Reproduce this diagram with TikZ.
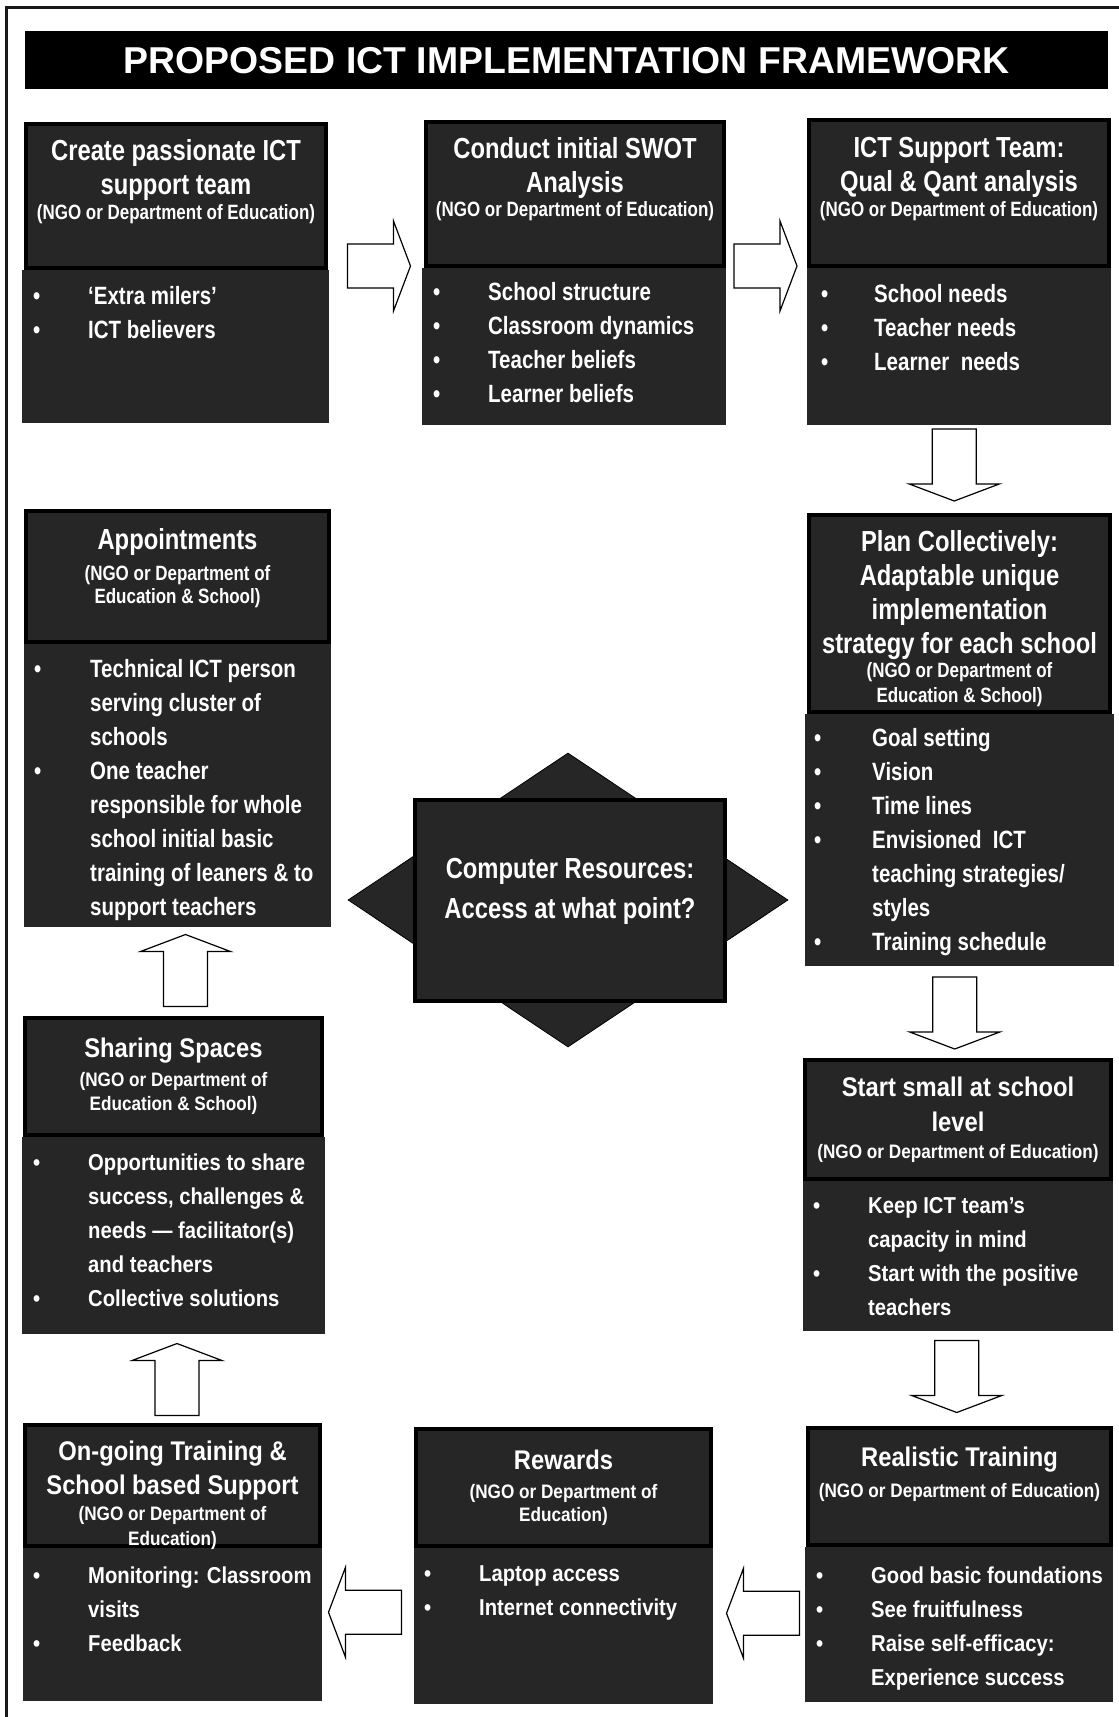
\documentclass[tikz,border=0pt]{standalone}
\usepackage{fontspec}
\setmainfont{Liberation Sans}
\newfontfamily\condA[FakeStretch=0.82]{Liberation Sans}
\newfontfamily\condB[FakeStretch=0.88]{Liberation Sans}
\usepackage{xcolor}
\usepackage{tikz}
\usetikzlibrary{shapes.geometric,calc}

\definecolor{boxgrey}{RGB}{38,38,38}

\newcommand{\bulitem}[1][55pt]{\makebox[#1][l]{\textbullet}}
\newcommand{\bulpad}[1][55pt]{\hspace*{#1}}
\newcommand{\ngoA}{\fontsize{20.7}{24}\selectfont}
\newcommand{\ngoB}{\fontsize{19.5}{24}\selectfont}

\tikzset{
  headbox/.style={draw=black, line width=4pt, fill=boxgrey, inner sep=0pt, outer sep=0pt, anchor=north west},
  bodybox/.style={fill=boxgrey, inner sep=0pt, outer sep=0pt, anchor=north west},
  titleA/.style={text=white, align=center, anchor=north, inner sep=0pt, font=\condA\bfseries\fontsize{29}{34}\selectfont},
  titleB/.style={text=white, align=center, anchor=north, inner sep=0pt, font=\condB\bfseries\fontsize{27}{34}\selectfont},
  listA/.style={text=white, align=left, anchor=north west, inner sep=0pt, font=\condA\bfseries\fontsize{25}{34}\selectfont},
  listB/.style={text=white, align=left, anchor=north west, inner sep=0pt, font=\condB\bfseries\fontsize{23}{34}\selectfont},
  arrowline/.style={draw=black, fill=white, line width=1.2pt},
  pics/blockarr/.style={code={
    \draw[arrowline] ({-#1/2},-22) -- ({#1/2-17},-22) -- ({#1/2-17},-45)
      -- ({#1/2},0) -- ({#1/2-17},45) -- ({#1/2-17},22) -- ({-#1/2},22) -- cycle;}},
}

\begin{document}
\begin{tikzpicture}[x=1pt, y=-1pt]
    \useasboundingbox (0,0) rectangle (1119,1717);

    % Page frame
    \draw[line width=3pt, black!90] (6,1720) -- (6,7) -- (1122,7);

    % Title bar
    \node[fill=black, text=white, font=\bfseries\fontsize{37.4}{40}\selectfont,
          minimum width=1083, minimum height=58, inner sep=0pt, anchor=north west]
          (title) at (25,31) {PROPOSED ICT IMPLEMENTATION FRAMEWORK};

    % Centre: computer resources
    \node[diamond, draw=black, line width=0.8pt, fill=boxgrey, minimum width=440,
          minimum height=294, inner sep=0pt] (access-diamond) at (568,900) {};
    \node[headbox, minimum width=310, minimum height=201] (access) at (415,800) {};
    \node[titleA] (access-text) at (570,858.2) {Computer Resources:\\[6pt]Access at what point?};

    % Box bodies
    \node[bodybox, minimum width=307, minimum height=153] (create-body) at (22,270) {};
    \node[bodybox, minimum width=304, minimum height=157] (swot-body) at (422,268) {};
    \node[bodybox, minimum width=304, minimum height=157] (team-body) at (807,268) {};
    \node[bodybox, minimum width=309, minimum height=252] (plan-body) at (805,714) {};
    \node[bodybox, minimum width=310, minimum height=150] (start-body) at (803,1181) {};
    \node[bodybox, minimum width=308, minimum height=155] (train-body) at (805,1547) {};
    \node[bodybox, minimum width=299, minimum height=156] (rewards-body) at (414,1548) {};
    \node[bodybox, minimum width=299, minimum height=153] (ongoing-body) at (23,1548) {};
    \node[bodybox, minimum width=303, minimum height=197] (sharing-body) at (22,1137) {};
    \node[bodybox, minimum width=307, minimum height=283] (appoint-body) at (24,644) {};

    % Box headers
    \node[headbox, minimum width=300, minimum height=144] (create-head) at (26,124) {};
    \node[headbox, minimum width=298, minimum height=144] (swot-head) at (426,122) {};
    \node[headbox, minimum width=300, minimum height=146] (team-head) at (809,120) {};
    \node[headbox, minimum width=301, minimum height=197] (plan-head) at (809,515) {};
    \node[headbox, minimum width=306, minimum height=119] (start-head) at (805,1060) {};
    \node[headbox, minimum width=303, minimum height=117] (train-head) at (808,1428) {};
    \node[headbox, minimum width=295, minimum height=117] (rewards-head) at (416,1429) {};
    \node[headbox, minimum width=295, minimum height=121] (ongoing-head) at (25,1425) {};
    \node[headbox, minimum width=297, minimum height=117] (sharing-head) at (25,1018) {};
    \node[headbox, minimum width=303, minimum height=131] (appoint-head) at (26,511) {};

    % Header titles
    \node[titleA] (create-title) at (176,139.2) {Create passionate ICT\\support team\\[-9pt]{\ngoA (NGO or Department of Education)}};
    \node[titleA] (swot-title) at (575,137.2) {Conduct initial SWOT\\Analysis\\[-10pt]{\ngoA (NGO or Department of Education)}};
    \node[titleA] (team-title) at (959,137.2) {ICT Support Team:\\Qual \& Qant analysis\\[-9pt]{\ngoA (NGO or Department of Education)}};
    \node[titleA] (plan-title) at (959.5,530.2) {Plan Collectively:\\Adaptable unique\\implementation\\strategy for each school\\[-10pt]{\ngoA (NGO or Department of}\\[-9pt]{\ngoA Education \& School)}};
    \node[titleA] (appoint-title) at (177.5,528.5) {Appointments\\[-3pt]{\ngoA (NGO or Department of}\\[-11pt]{\ngoA Education \& School)}};
    \node[titleB] (sharing-title) at (173.5,1037.5) {Sharing Spaces\\[-4.7pt]{\ngoB (NGO or Department of}\\[-10pt]{\ngoB Education \& School)}};
    \node[titleB] (ongoing-title) at (172.5,1441) {On-going Training \&\\School based Support\\[-8.7pt]{\ngoB (NGO or Department of}\\[-9pt]{\ngoB Education)}};
    \node[titleB] (rewards-title) at (563.5,1449.5) {Rewards\\[-4.7pt]{\ngoB (NGO or Department of}\\[-11pt]{\ngoB Education)}};
    \node[titleB] (start-title) at (958,1077) {Start small at school\\[1pt]level\\[-7.7pt]{\ngoB (NGO or Department of Education)}};
    \node[titleB] (train-title) at (959.5,1447) {Realistic Training\\[-3.7pt]{\ngoB (NGO or Department of Education)}};

    % Bullet lists
    \node[listA] (create-list) at (33,286) {\bulitem ‘Extra milers’\\\bulitem ICT believers};
    \node[listA] (swot-list) at (433,282) {\bulitem School structure\\\bulitem Classroom dynamics\\\bulitem Teacher beliefs\\\bulitem Learner beliefs};
    \node[listA] (team-list) at (821,284) {\bulitem[53pt]School needs\\\bulitem[53pt]Teacher needs\\\bulitem[53pt]Learner~~needs};
    \node[listA] (plan-list) at (814,728) {\bulitem[58pt]Goal setting\\\bulitem[58pt]Vision\\\bulitem[58pt]Time lines\\\bulitem[58pt]Envisioned~~ICT\\\bulpad[58pt]teaching strategies/\\\bulpad[58pt]styles\\\bulitem[58pt]Training schedule};
    \node[listA] (appoint-list) at (34,659) {\bulitem[56pt]Technical ICT person\\\bulpad[56pt]serving cluster of\\\bulpad[56pt]schools\\\bulitem[56pt]One teacher\\\bulpad[56pt]responsible for whole\\\bulpad[56pt]school initial basic\\\bulpad[56pt]training of leaners \& to\\\bulpad[56pt]support teachers};
    \node[listB] (sharing-list) at (33,1153.7) {\bulitem Opportunities to share\\\bulpad success, challenges \&\\\bulpad needs — facilitator(s)\\\bulpad and teachers\\\bulitem Collective solutions};
    \node[listB] (start-list) at (813,1197.7) {\bulitem Keep ICT team’s\\\bulpad capacity in mind\\\bulitem Start with the positive\\\bulpad teachers};
    \node[listB] (train-list) at (816,1566.7) {\bulitem Good basic foundations\\\bulitem See fruitfulness\\\bulitem Raise self-efficacy:\\\bulpad Experience success};
    \node[listB] (rewards-list) at (424,1565.7) {\bulitem Laptop access\\\bulitem Internet connectivity};
    \node[listB] (ongoing-list) at (33,1566.7) {\bulitem Monitoring: Classroom\\\bulpad visits\\\bulitem Feedback};

    % Block arrows between the steps
    \pic at ($(create-head.south east)!0.5!(swot-head.south west)+(3,-1)$) {blockarr=63};
    \pic at ($(swot-head.south east)!0.5!(team-head.south west)+(-1,0)$) {blockarr=63};
    \pic[rotate=-90] at ($(team-body.south)!0.5!(plan-head.north)+(-5,-5)$) {blockarr=72};
    \pic[rotate=-90] at ($(plan-body.south)!0.5!(start-head.north)+(-4,0)$) {blockarr=72};
    \pic[rotate=-90] at ($(start-body.south)!0.5!(train-head.north)+(-2,-3)$) {blockarr=72};
    \pic[rotate=180] at ($(rewards-body.east)!0.5!(train-body.west)+(4,-12)$) {blockarr=73};
    \pic[rotate=180] at ($(ongoing-body.east)!0.5!(rewards-body.west)+(-3,-13)$) {blockarr=73};
    \pic[rotate=90] at ($(sharing-body.south)!0.5!(ongoing-head.north)+(4,0)$) {blockarr=72};
    \pic[rotate=90] at ($(appoint-body.south)!0.5!(sharing-head.north)+(10,-2)$) {blockarr=72};
\end{tikzpicture}
\end{document}
